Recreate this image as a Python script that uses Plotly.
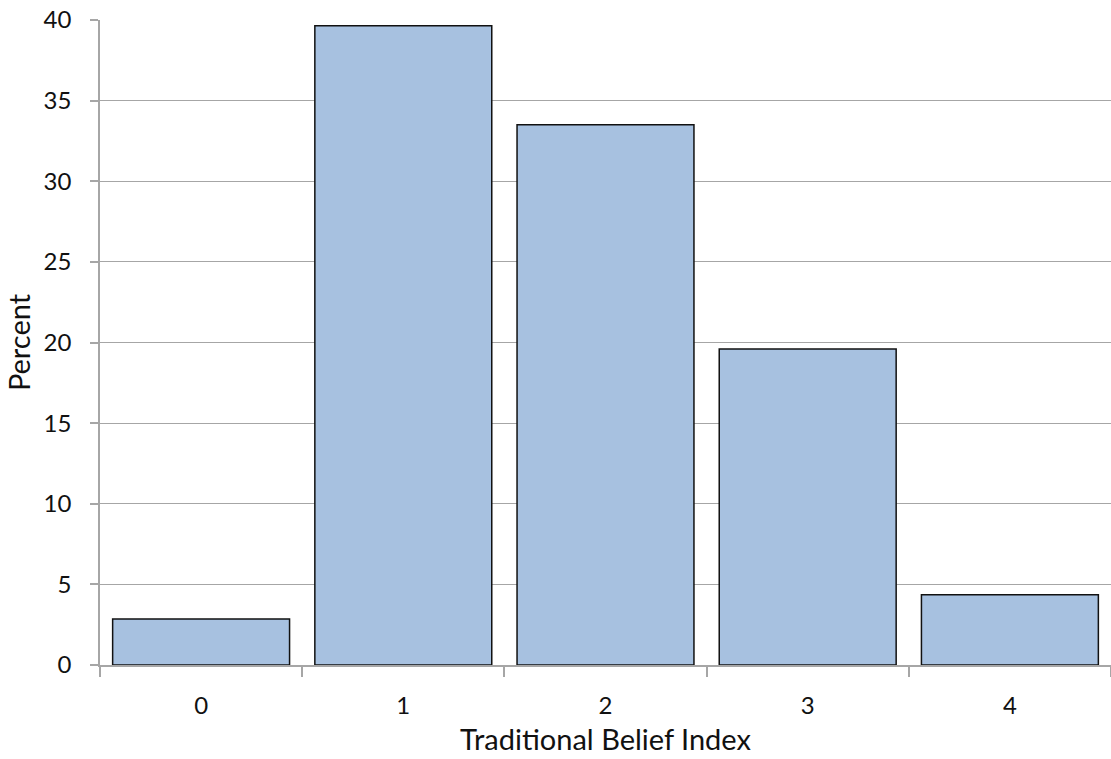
import plotly.graph_objects as go

categories = ["0", "1", "2", "3", "4"]
percent = [2.85, 39.65, 33.5, 19.6, 4.35]

fig = go.Figure(
    go.Bar(
        x=categories,
        y=percent,
        marker=dict(color="#a7c1e0", line=dict(color="#111111", width=1.5)),
    )
)

grid = "#a6a6a6"
font_family = "Lato, 'DejaVu Sans', sans-serif"

fig.update_layout(
    width=1111,
    height=759,
    margin=dict(l=100, r=0, t=20, b=94),
    paper_bgcolor="white",
    plot_bgcolor="white",
    bargap=0.125,
    showlegend=False,
    font=dict(family=font_family, size=24, color="#111111"),
)

fig.update_xaxes(
    type="category",
    range=[-0.5, 4.5],
    showline=True,
    linecolor=grid,
    linewidth=1.5,
    ticks="outside",
    tickson="boundaries",
    ticklen=10,
    tickcolor=grid,
    tickwidth=1.5,
    ticklabelstandoff=18,
    showgrid=False,
    title=dict(text="Traditional Belief Index", standoff=12),
)

fig.update_yaxes(
    range=[0, 40],
    dtick=5,
    showline=True,
    linecolor=grid,
    linewidth=1.5,
    ticks="outside",
    ticklen=8,
    tickcolor=grid,
    tickwidth=1.5,
    ticklabelstandoff=14,
    showgrid=True,
    gridcolor=grid,
    gridwidth=1.2,
    zeroline=False,
    title=dict(text="Percent", standoff=4),
)

fig.write_html("out.html")
